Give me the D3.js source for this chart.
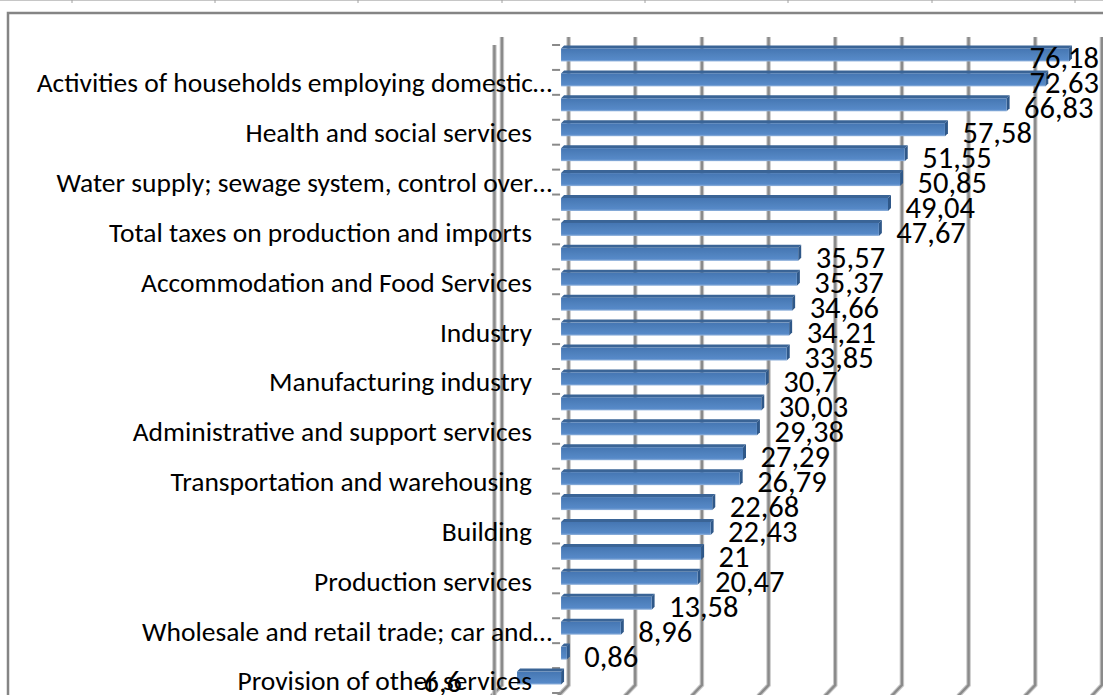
<!DOCTYPE html>
<html>
<head>
<meta charset="utf-8">
<script src="https://cdn.jsdelivr.net/npm/d3@7"></script>
<style>
  body { margin: 0; background: #fff; }
  svg { display: block; }
  text { font-family: Carlito, Lato, "Liberation Sans", sans-serif; fill: #000; }
</style>
</head>
<body>
<div id="chart"></div>
<script>
// top to bottom, only every second category carries a label in the picture
var categories = ["", "Activities of households employing domestic\u2026", "", "Health and social services",
  "", "Water supply; sewage system, control over\u2026", "", "Total taxes on production and imports",
  "", "Accommodation and Food Services", "", "Industry", "", "Manufacturing industry",
  "", "Administrative and support services", "", "Transportation and warehousing",
  "", "Building", "", "Production services", "", "Wholesale and retail trade; car and\u2026",
  "", "Provision of other services"]
var values = [76.18, 72.63, 66.83, 57.58, 51.55, 50.85, 49.04, 47.67, 35.57, 35.37, 34.66, 34.21,
  33.85, 30.7, 30.03, 29.38, 27.29, 26.79, 22.68, 22.43, 21, 20.47, 13.58, 8.96, 0.86, -6.6]
var xTicks = [-10, 0, 10, 20, 30, 40, 50, 60, 70, 80]
var sheetCols = [72, 215, 358, 502, 645, 788, 932, 1075]

var W = 1103, H = 695
var depth = {dx: 7.5, dy: -8}   // wall offset of the 3d box
var barDepth = 3

var svg = d3.select("#chart").append("svg").attr("width", W).attr("height", H)

var x = d3.scaleLinear().domain([-10, 80]).range([494.4, 1094.4])
var y = d3.scaleBand().domain(d3.range(values.length)).range([45, 693]).padding(0)

var locale = d3.formatLocale({decimal: ",", thousands: ".", grouping: [3], currency: ["", ""], minus: "-"})
var fmt = locale.format("~f")

// spreadsheet line at the top and chart frame
svg.append("line").attr("x1", 0).attr("x2", W).attr("y1", 0.5).attr("y2", 0.5)
  .style("stroke", "#c6c6c6").style("stroke-width", 1)
svg.selectAll(".col").data(sheetCols).enter().append("line").classed("col", true)
  .attr("x1", d => d).attr("x2", d => d).attr("y1", 0).attr("y2", 3)
  .style("stroke", "#a0a0a0")
svg.append("rect").attr("x", 8).attr("y", 13).attr("width", W).attr("height", H)
  .style("fill", "none").style("stroke", "#858585").style("stroke-width", 2.5)

var yBottom = y.range()[1], yTop = y.range()[0]

// gridlines on the back wall with their foot on the floor
var grid = svg.append("g").classed("grid", true)
function gridPath(v) {
  var xb = x(v) + depth.dx
  return "M" + xb + "," + (yTop + depth.dy) + "L" + xb + "," + (yBottom + depth.dy) +
    "L" + x(v) + "," + yBottom + "L" + (x(v) - 3) + "," + (yBottom + 3)
}
grid.selectAll("path.shade").data(xTicks).enter().append("path").classed("shade", true)
  .attr("d", gridPath).style("fill", "none").style("stroke", "#c8c8c8").style("stroke-width", 4.5)
grid.selectAll("path.core").data(xTicks).enter().append("path").classed("core", true)
  .attr("d", gridPath).style("fill", "none").style("stroke", "#8a8a8a").style("stroke-width", 2.4)
// front edge of the side wall
grid.append("line").attr("x1", x(-10)).attr("x2", x(-10)).attr("y1", yTop).attr("y2", H)
  .style("stroke", "#c8c8c8").style("stroke-width", 4.5)
grid.append("line").attr("x1", x(-10)).attr("x2", x(-10)).attr("y1", yTop).attr("y2", H)
  .style("stroke", "#8a8a8a").style("stroke-width", 2.4)

// category tick marks
svg.selectAll(".tick").data(d3.range(values.length + 1)).enter().append("line").classed("tick", true)
  .attr("x1", x(0) - 9).attr("x2", x(0) - 1)
  .attr("y1", d => yTop + d * y.step()).attr("y2", d => yTop + d * y.step())
  .style("stroke", "#8a8a8a").style("stroke-width", 2)

// bars
var defs = svg.append("defs")
var grad = defs.append("linearGradient").attr("id", "barfront").attr("x1", 0).attr("x2", 0).attr("y1", 0).attr("y2", 1)
grad.selectAll("stop").data([
  {o: 0, c: "#4576b3"}, {o: 0.45, c: "#4f81bd"}, {o: 0.85, c: "#5689c8"}, {o: 1, c: "#93b4dd"}
]).join("stop").attr("offset", d => d.o).attr("stop-color", d => d.c)

var barH = 13
var bars = svg.selectAll(".bar").data(values).enter().append("g").classed("bar", true)
function by(i) { return y(i) + y.bandwidth() / 2 - 2.5 - barH / 2 }
bars.append("path")   // top face
  .attr("d", (d, i) => {
    var x0 = x(Math.min(0, d)), x1 = x(Math.max(0, d)), t = by(i)
    return "M" + x0 + "," + t + "L" + (x0 + barDepth) + "," + (t - barDepth) +
      "L" + (x1 + barDepth) + "," + (t - barDepth) + "L" + x1 + "," + t + "Z"
  })
  .style("fill", "#3a6496")
bars.append("path")   // end face
  .attr("d", (d, i) => {
    var x1 = x(Math.max(0, d)), t = by(i)
    return "M" + x1 + "," + t + "L" + (x1 + barDepth) + "," + (t - barDepth) +
      "L" + (x1 + barDepth) + "," + (t - barDepth + barH) + "L" + x1 + "," + (t + barH) + "Z"
  })
  .style("fill", "#2f5889")
bars.append("rect")
  .attr("x", d => x(Math.min(0, d)))
  .attr("y", (d, i) => by(i))
  .attr("width", d => Math.abs(x(d) - x(0)))
  .attr("height", barH)
  .style("fill", "url(#barfront)")

// category labels
svg.selectAll(".cat").data(categories).enter().append("text").classed("cat", true)
  .attr("x", d => d.endsWith("\u2026") ? 552 : 532)
  .attr("y", (d, i) => y(i) + y.bandwidth() / 2)
  .attr("dy", "0.36em")
  .attr("text-anchor", "end")
  .style("font-size", "27.5px")
  .text(d => d)

// value labels
svg.selectAll(".val").data(values).enter().append("text").classed("val", true)
  .attr("y", (d, i) => y(i) + y.bandwidth() / 2)
  .attr("dy", "0.36em")
  .style("font-size", "30.5px")
  .text(d => fmt(d))
  .each(function(d) {
    var w = this.getComputedTextLength()
    var sx = d < 0 ? x(d) - 55 - w : x(d) + 17.5
    if (sx + w > 1099) sx = 1099 - w
    d3.select(this).attr("x", sx)
  })
</script>
</body>
</html>
